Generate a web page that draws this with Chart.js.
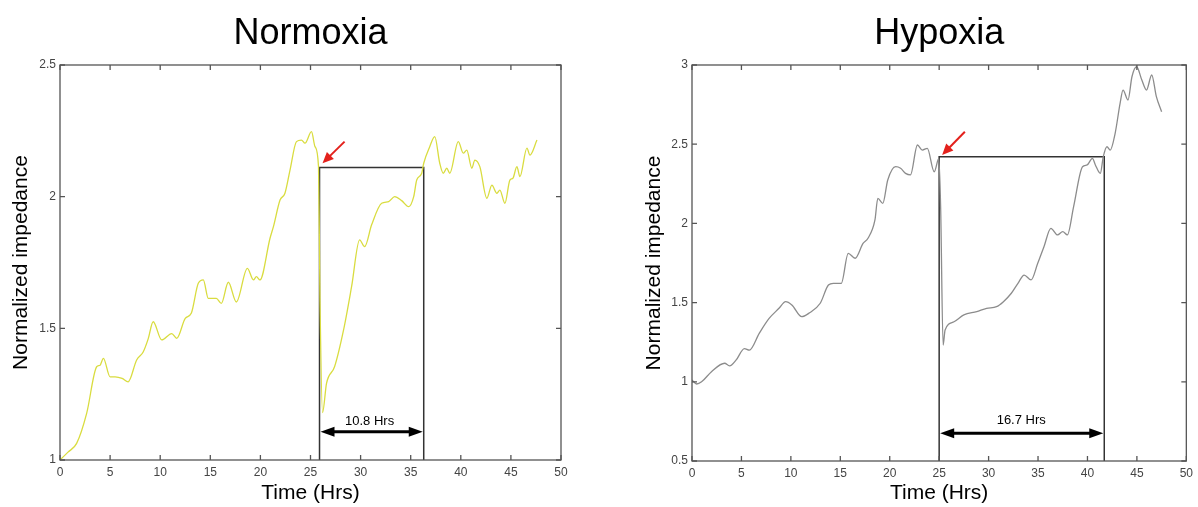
<!DOCTYPE html>
<html lang="en">
<head>
<meta charset="UTF-8">
<title>Normoxia / Hypoxia impedance</title>
<script src="https://cdn.jsdelivr.net/npm/chart.js"></script>
<style>
    body {
        margin: 0;
        background: #fff;
        width: 1198px;
        height: 507px;
        overflow: hidden;
        position: relative;
    }
    canvas { position: absolute; top: 0; }
    #normoxiaChart { left: 0; }
    #hypoxiaChart { left: 620px; }
</style>
</head>
<body>
<canvas id="normoxiaChart" width="620" height="507"></canvas>
<canvas id="hypoxiaChart" width="578" height="507"></canvas>
<script>
// values (time in hours, normalized impedance)
const normoxiaTime = [0, 0.8, 1.66, 2.66, 3.66, 4.0, 4.33, 5.0, 5.5, 6.2, 6.8, 7.65, 8.3, 8.8, 9.3, 10.15, 11.15, 11.65, 12.5, 13.1,
    13.8, 14.3, 14.8, 15.6, 16.1, 16.8, 17.6, 18.7, 19.3, 19.6, 19.96, 20.96, 21.3, 21.96, 22.45, 22.95, 23.6, 24.1, 24.45, 25.1,
    25.45, 25.8, 25.95, 26.2, 26.6, 27.4, 28.3, 29.1, 29.9, 30.4, 31.1, 32.1, 32.8, 33.4, 34.1, 34.8, 35.3, 35.6, 36.1, 36.3,
    36.9, 37.4, 37.9, 38.25, 38.6, 38.9, 39.75, 40.25, 40.6, 41.1, 41.4, 41.9, 42.6, 43.1, 43.6, 43.9, 44.4, 44.9, 45.2, 45.6,
    45.9, 46.6, 46.9, 47.6];
const normoxiaImpedance = [1.0, 1.03, 1.063, 1.177, 1.354, 1.36, 1.386, 1.316, 1.316, 1.31, 1.297, 1.38, 1.41, 1.46, 1.525, 1.456, 1.48, 1.462, 1.538, 1.557,
    1.671, 1.684, 1.614, 1.614, 1.595, 1.675, 1.6, 1.728, 1.684, 1.696, 1.684, 1.842, 1.886, 1.987, 2.013, 2.1, 2.209, 2.215, 2.203, 2.247,
    2.19, 2.114, 1.6, 1.18, 1.291, 1.354, 1.494, 1.658, 1.836, 1.81, 1.893, 1.975, 1.981, 2.0, 1.985, 1.962, 2.0, 2.063, 2.089, 2.127,
    2.19, 2.228, 2.127, 2.089, 2.108, 2.089, 2.209, 2.165, 2.177, 2.108, 2.139, 2.114, 1.994, 2.044, 2.013, 2.025, 1.975, 2.063, 2.07, 2.114,
    2.076, 2.184, 2.158, 2.215];

const hypoxiaTime = [0, 0.47, 0.97, 1.97, 3.3, 3.8, 4.47, 5.3, 5.8, 6.8, 7.8, 8.8, 9.47, 10.1, 11.1, 11.8, 12.97, 13.8, 14.3, 15.1,
    15.8, 16.5, 17.3, 17.8, 18.5, 18.8, 19.3, 19.8, 20.6, 21.1, 21.6, 22.1, 22.8, 23.3, 23.8, 24.5, 24.97, 25.15, 25.4, 25.6,
    26.5, 27.5, 28.8, 29.8, 30.8, 31.5, 32.3, 32.97, 33.6, 34.3, 34.97, 35.6, 36.3, 36.97, 37.5, 37.97, 38.6, 39.5, 39.97, 40.5,
    40.8, 41.3, 41.6, 41.97, 42.3, 42.8, 43.3, 43.6, 44.1, 44.5, 44.97, 45.5, 45.97, 46.5, 46.97, 47.5];
const hypoxiaImpedance = [1.011, 0.986, 1.0, 1.064, 1.117, 1.1, 1.138, 1.21, 1.2, 1.306, 1.4, 1.464, 1.506, 1.485, 1.411, 1.432, 1.496, 1.611, 1.622, 1.622,
    1.811, 1.78, 1.874, 1.906, 2.02, 2.158, 2.127, 2.274, 2.358, 2.348, 2.316, 2.306, 2.495, 2.463, 2.474, 2.326, 2.411, 2.1, 1.232, 1.327,
    1.379, 1.422, 1.443, 1.464, 1.474, 1.506, 1.559, 1.622, 1.674, 1.643, 1.748, 1.853, 1.969, 1.927, 1.948, 1.927, 2.106, 2.358, 2.369, 2.411,
    2.369, 2.316, 2.421, 2.484, 2.463, 2.569, 2.758, 2.842, 2.779, 2.926, 2.989, 2.905, 2.842, 2.937, 2.8, 2.705];

// recovery windows: [start, end] in hours, impedance level of the box top
const normoxiaWindow = [25.9, 36.3];
const normoxiaLevel = 2.111;
const hypoxiaWindow = [25.0, 41.7];
const hypoxiaLevel = 2.421;

const normoxiaYTicks = [1, 1.5, 2, 2.5];
const hypoxiaYTicks = [0.5, 1, 1.5, 2, 2.5, 3];
const timeTicks = [0, 5, 10, 15, 20, 25, 30, 35, 40, 45, 50];

const FONT = "'Liberation Sans', Arial, sans-serif";

function toPoints(xs, ys) {
    return xs.map((x, i) => ({ x: x, y: ys[i] }));
}

function boxPoints(win, level, floor) {
    return [
        { x: win[0], y: floor }, { x: win[0], y: level },
        { x: win[1], y: level }, { x: win[1], y: floor }
    ];
}

function drawHead(ctx, tx, ty, ang, len, half) {
    ctx.beginPath();
    ctx.moveTo(tx, ty);
    ctx.lineTo(tx - len * Math.cos(ang) + half * Math.sin(ang), ty - len * Math.sin(ang) - half * Math.cos(ang));
    ctx.lineTo(tx - len * Math.cos(ang) - half * Math.sin(ang), ty - len * Math.sin(ang) + half * Math.cos(ang));
    ctx.closePath();
    ctx.fill();
}

// box frame with inward ticks, matlab style
const framePlugin = {
    id: 'frame',
    afterDatasetsDraw(chart) {
        const { ctx, chartArea: a, scales: { x, y } } = chart;
        ctx.save();
        ctx.strokeStyle = '#555';
        ctx.lineWidth = 1.3;
        ctx.strokeRect(a.left, a.top, a.right - a.left, a.bottom - a.top);
        ctx.beginPath();
        x.ticks.forEach(t => {
            const px = x.getPixelForValue(t.value);
            ctx.moveTo(px, a.bottom); ctx.lineTo(px, a.bottom - 5);
            ctx.moveTo(px, a.top); ctx.lineTo(px, a.top + 5);
        });
        y.ticks.forEach(t => {
            const py = y.getPixelForValue(t.value);
            ctx.moveTo(a.left, py); ctx.lineTo(a.left + 5, py);
            ctx.moveTo(a.right, py); ctx.lineTo(a.right - 5, py);
        });
        ctx.stroke();
        ctx.restore();
    }
};

// red pointer arrow + double headed span arrow with its label
const marksPlugin = {
    id: 'marks',
    afterDatasetsDraw(chart, args, o) {
        const { ctx, scales: { x, y } } = chart;
        ctx.save();
        // red arrow
        const x0 = x.getPixelForValue(o.pointerFrom[0]), y0 = y.getPixelForValue(o.pointerFrom[1]);
        const x1 = x.getPixelForValue(o.pointerTo[0]), y1 = y.getPixelForValue(o.pointerTo[1]);
        const ang = Math.atan2(y1 - y0, x1 - x0);
        ctx.strokeStyle = '#e3211c';
        ctx.fillStyle = '#e3211c';
        ctx.lineWidth = 2;
        ctx.beginPath();
        ctx.moveTo(x0, y0);
        ctx.lineTo(x1 - 8 * Math.cos(ang), y1 - 8 * Math.sin(ang));
        ctx.stroke();
        drawHead(ctx, x1, y1, ang, 11, 5);

        // span arrow
        const ya = y.getPixelForValue(o.spanY);
        const xa = x.getPixelForValue(o.span[0]), xb = x.getPixelForValue(o.span[1]);
        ctx.strokeStyle = '#000';
        ctx.fillStyle = '#000';
        ctx.lineWidth = 3;
        ctx.beginPath();
        ctx.moveTo(xa + 10, ya);
        ctx.lineTo(xb - 10, ya);
        ctx.stroke();
        drawHead(ctx, xa + 1, ya, Math.PI, 14, 5);
        drawHead(ctx, xb - 1, ya, 0, 14, 5);

        ctx.font = '13px ' + FONT;
        ctx.textAlign = 'center';
        ctx.textBaseline = 'middle';
        ctx.fillText(o.label, x.getPixelForValue(o.labelAt[0]), y.getPixelForValue(o.labelAt[1]));
        ctx.restore();
    }
};

function makeChart(id, cfg) {
    const ctx = document.getElementById(id).getContext('2d');
    return new Chart(ctx, {
        type: 'line',
        data: {
            datasets: [{
                data: toPoints(cfg.time, cfg.values),
                borderColor: cfg.color,
                borderWidth: 1.3,
                pointRadius: 0,
                cubicInterpolationMode: 'monotone',
                tension: 0.2
            }, {
                data: boxPoints(cfg.window, cfg.level, cfg.yTicks[0]),
                borderColor: '#333',
                borderWidth: 1.5,
                pointRadius: 0,
                tension: 0
            }]
        },
        options: {
            responsive: false,
            animation: false,
            devicePixelRatio: 1,
            layout: { padding: { left: 0, right: cfg.padRight, top: 0, bottom: 0 } },
            scales: {
                x: {
                    type: 'linear',
                    min: 0, max: 50,
                    afterBuildTicks: s => { s.ticks = timeTicks.map(v => ({ value: v })); },
                    afterFit: s => { s.height = cfg.xAxisHeight; },
                    grid: { display: false, drawTicks: false },
                    border: { display: false },
                    ticks: { autoSkip: false, maxRotation: 0, padding: 5, color: '#444', font: { family: FONT, size: 12 },
                        callback: v => String(v) },
                    title: { display: true, text: 'Time (Hrs)', color: '#000', font: { family: FONT, size: 21 }, padding: { top: 0, bottom: 1 } }
                },
                y: {
                    type: 'linear',
                    min: cfg.yTicks[0], max: cfg.yTicks[cfg.yTicks.length - 1],
                    afterBuildTicks: s => { s.ticks = cfg.yTicks.map(v => ({ value: v })); },
                    afterFit: s => { s.width = cfg.yAxisWidth; },
                    grid: { display: false, drawTicks: false },
                    border: { display: false },
                    ticks: { autoSkip: false, padding: 4, color: '#444', font: { family: FONT, size: 12 },
                        callback: v => String(v) },
                    title: { display: true, text: 'Normalized impedance', color: '#000', font: { family: FONT, size: 21 }, padding: { top: cfg.yTitlePad, bottom: 0 } }
                }
            },
            plugins: {
                legend: { display: false },
                tooltip: { enabled: false },
                title: {
                    display: true,
                    text: cfg.title,
                    fullSize: false,
                    color: '#000',
                    font: { family: FONT, size: 36, weight: 'normal' },
                    padding: { top: 12, bottom: 65 - 43.2 - 12 }
                },
                marks: cfg.marks
            }
        },
        plugins: [framePlugin, marksPlugin]
    });
}

document.addEventListener('DOMContentLoaded', () => {
    makeChart('normoxiaChart', {
        title: 'Normoxia',
        time: normoxiaTime,
        values: normoxiaImpedance,
        color: '#d9dc3f',
        window: normoxiaWindow,
        level: normoxiaLevel,
        yTicks: normoxiaYTicks,
        yAxisWidth: 60,
        xAxisHeight: 47,
        padRight: 59,
        yTitlePad: 9,
        marks: {
            pointerFrom: [28.4, 2.209],
            pointerTo: [26.2, 2.127],
            span: normoxiaWindow,
            spanY: 1.1075,
            label: '10.8 Hrs',
            labelAt: [30.9, 1.148]
        }
    });
    makeChart('hypoxiaChart', {
        title: 'Hypoxia',
        time: hypoxiaTime,
        values: hypoxiaImpedance,
        color: '#8c8c8c',
        window: hypoxiaWindow,
        level: hypoxiaLevel,
        yTicks: hypoxiaYTicks,
        yAxisWidth: 72,
        xAxisHeight: 46,
        padRight: 6,
        yTitlePad: 22,
        marks: {
            pointerFrom: [27.6, 2.579],
            pointerTo: [25.3, 2.432],
            span: hypoxiaWindow,
            spanY: 0.675,
            label: '16.7 Hrs',
            labelAt: [33.3, 0.757]
        }
    });
});
</script>
</body>
</html>
